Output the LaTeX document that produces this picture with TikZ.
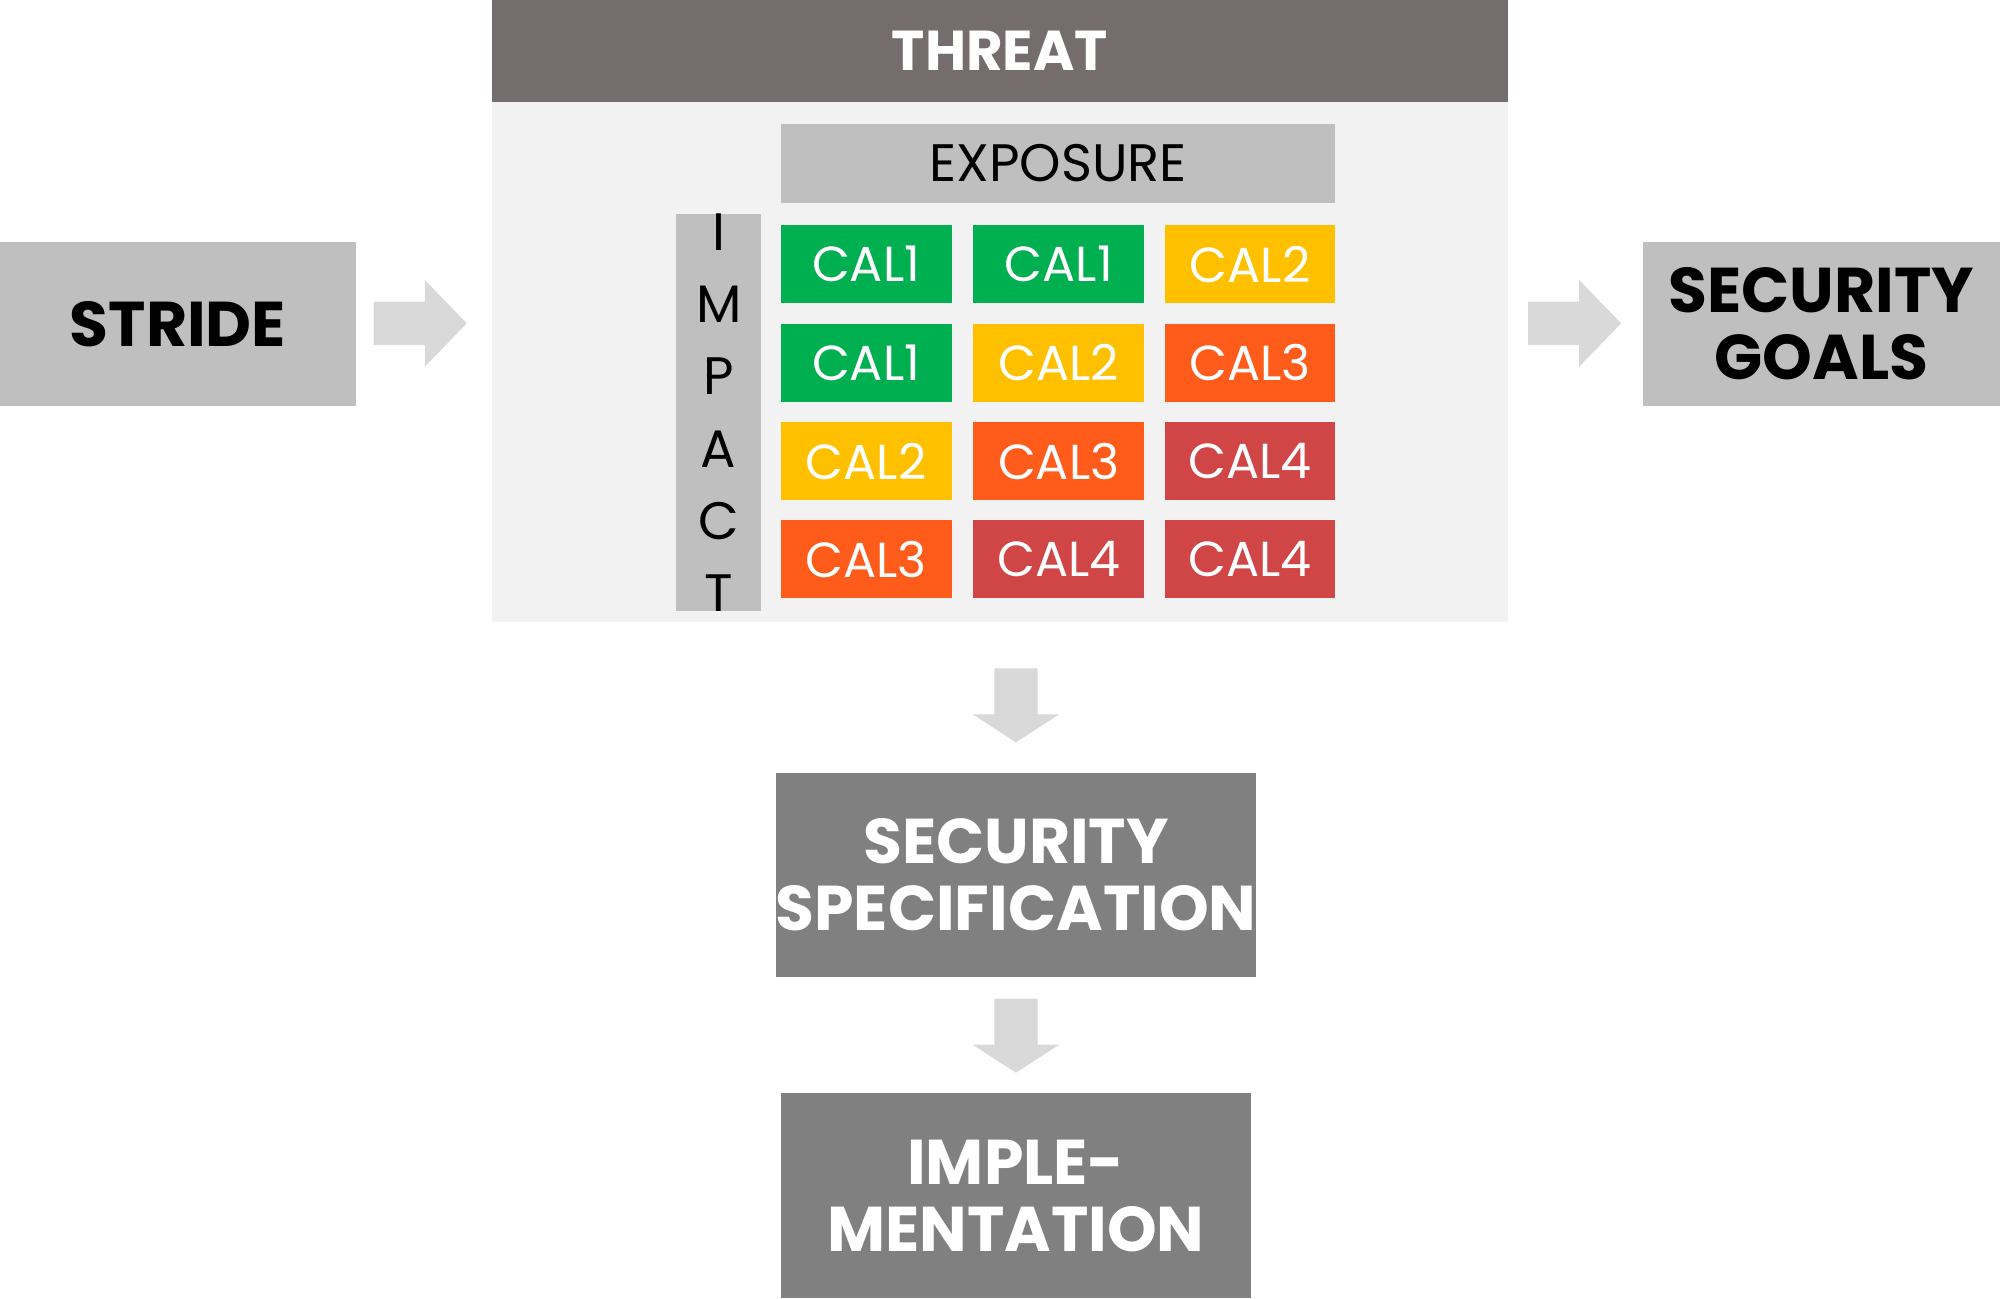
\documentclass[tikz,border=0pt]{standalone}
\usepackage{fontspec}
\setmainfont{Poppins}
\usetikzlibrary{positioning}
\definecolor{threatgray}{HTML}{756D6D}
\definecolor{panelgray}{HTML}{F2F2F2}
\definecolor{boxgray}{HTML}{BFBFBF}
\definecolor{darkgray}{HTML}{808080}
\definecolor{arrowgray}{HTML}{D9D9D9}
\definecolor{calgreen}{HTML}{00B050}
\definecolor{calyellow}{HTML}{FFC000}
\definecolor{calorange}{HTML}{FF5B1B}
\definecolor{calred}{HTML}{D04545}
\def\u{0.012755cm}
\tikzset{
  box/.style={inner sep=0pt, align=center},
  cal/.style={box, minimum width=134*\u, minimum height=61*\u, text=white, font=\fontsize{14}{16}\selectfont},
  title/.style={box, font=\fontsize{18}{21}\selectfont\bfseries}
}
\newcommand{\rarrow}[2]{\fill[arrowgray] (#1,#2-17) -- ++(40,0) -- ++(0,-17) -- ++(33,34) -- ++(-33,34) -- ++(0,-17) -- ++(-40,0) -- cycle;}
\newcommand{\darrow}[2]{\fill[arrowgray] (#1-17,#2) -- ++(34,0) -- ++(0,36) -- ++(17,0) -- ++(-34,22) -- ++(-34,-22) -- ++(17,0) -- cycle;}
\begin{document}
\begin{tikzpicture}[x=0.012755cm, y=-0.012755cm]
    \useasboundingbox (0,0) rectangle (1568,1018);

    % threat panel
    \fill[panelgray] (386,80) rectangle (1182,488);
    \node[box, fill=threatgray, minimum width=796*\u, minimum height=80*\u, text=white,
          font=\fontsize{16}{19}\selectfont\bfseries] (threat) at (784,40) {THREAT};
    \node[box, fill=boxgray, minimum width=435*\u, minimum height=62*\u,
          font=\fontsize{15}{18}\selectfont] (exposure) at (829.5,128) {EXPOSURE};
    \node[box, fill=boxgray, minimum width=67*\u, minimum height=293*\u,
          font=\fontsize{15}{20.5}\selectfont] (impact) at (563.5,323.5) {I\\M\\P\\A\\C\\T};

    % CAL matrix
    \foreach \r/\y in {1/207,2/284.5,3/361.5,4/438.5}
      \foreach \c/\x in {1/679,2/830,3/980}
        \coordinate (c\r\c) at (\x,\y);
    \foreach \r/\c/\col/\t in {1/1/calgreen/CAL1,1/2/calgreen/CAL1,1/3/calyellow/CAL2,
                               2/1/calgreen/CAL1,2/2/calyellow/CAL2,2/3/calorange/CAL3,
                               3/1/calyellow/CAL2,3/2/calorange/CAL3,3/3/calred/CAL4,
                               4/1/calorange/CAL3,4/2/calred/CAL4,4/3/calred/CAL4}
      \node[cal, fill=\col] (cal\r\c) at (c\r\c) {\t};

    % side boxes
    \node[title, fill=boxgray, minimum width=279*\u, minimum height=128*\u] (stride) at (139.5,254) {STRIDE};
    \node[title, fill=boxgray, minimum width=280*\u, minimum height=128*\u] (goals) at (1428,254) {SECURITY\\[-2pt]GOALS};

    % bottom boxes
    \node[title, fill=darkgray, text=white, minimum width=369*\u, minimum height=160*\u] (spec) at (796.5,686) {SECURITY\\[-2pt]SPECIFICATION};
    \node[title, fill=darkgray, text=white, minimum width=369*\u, minimum height=161*\u] (impl) at (796.5,937.5) {IMPLE-\\[-2pt]MENTATION};

    % arrows
    \rarrow{293}{253.5}
    \rarrow{1198}{253.5}
    \darrow{796.5}{524}
    \darrow{796.5}{783}
\end{tikzpicture}
\end{document}
